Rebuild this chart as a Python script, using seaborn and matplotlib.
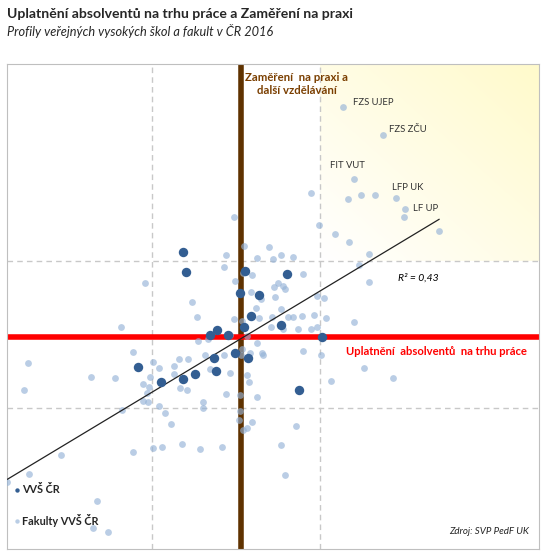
import numpy as np
import pandas as pd
import matplotlib
matplotlib.use('Agg')
import matplotlib.pyplot as plt
import seaborn as sns
from matplotlib.colors import LinearSegmentedColormap

# VVS CR - vysoke skoly
vvs_x = [51.86, 52.04, 55.54, 58.05, 55.22, 56.35, 55.91, 55.49, 57.70, 53.89, 53.47,
         54.52, 60.14, 54.94, 55.73, 53.71, 53.83, 52.58, 51.86, 50.54, 49.18, 58.77]
vvs_y = [60.63, 59.23, 59.32, 59.10, 57.80, 57.67, 56.24, 55.53, 55.63, 55.29, 54.95,
         54.95, 54.81, 53.72, 53.38, 53.40, 52.50, 52.29, 51.95, 51.75, 52.79, 51.20]

# Fakulty VVS CR
fak_x = [61.39, 63.77, 62.04, 59.48, 61.68, 62.46, 63.29, 64.55, 65.09, 65.02, 67.10,
         54.90, 59.96, 60.91, 61.74, 55.49, 56.98, 62.93, 56.28, 57.22, 57.71, 58.41,
         54.42, 62.34, 54.30, 55.43, 55.93, 59.01, 49.60, 54.96, 57.52, 57.26, 57.78,
         57.93, 62.93, 55.91, 56.47, 57.34, 59.84, 60.26, 52.40, 56.21, 57.70, 52.70,
         54.90, 55.34, 56.35, 57.16, 58.08, 58.41, 58.95, 59.66, 60.38, 48.13, 57.07,
         57.82, 58.71, 59.46, 59.84, 62.04, 54.63, 55.65, 53.32, 52.77, 56.27, 55.36,
         55.32, 55.85, 48.89, 53.18, 54.30, 56.57, 56.63, 59.01, 60.08, 50.09, 51.58,
         52.13, 51.33, 50.39, 53.47, 54.65, 55.67, 55.79, 47.82, 49.90, 51.31, 49.48,
         49.84, 51.67, 52.11, 60.67, 62.64, 64.36, 49.70, 49.48, 49.78, 54.42, 55.27,
         56.27, 53.01, 53.01, 50.39, 42.60, 46.37, 42.40, 48.23, 50.79, 51.15, 55.26,
         55.16, 55.97, 55.67, 55.40, 58.59, 48.89, 50.08, 50.61, 51.80, 52.88, 54.18,
         44.60, 57.70, 57.93, 41.39, 42.70, 46.74, 46.51, 47.40]
fak_y = [70.46, 68.55, 65.56, 64.61, 64.20, 64.52, 64.47, 64.27, 63.52, 62.97, 62.02,
         62.97, 62.43, 61.82, 61.27, 61.01, 60.93, 60.46, 60.18, 60.12, 60.39, 60.26,
         60.39, 59.71, 59.57, 59.16, 59.03, 59.10, 58.48, 58.62, 58.48, 58.25, 58.30,
         58.12, 58.55, 57.87, 57.39, 57.57, 57.65, 57.46, 57.19, 56.78, 56.71, 56.17,
         56.03, 55.90, 56.14, 56.17, 56.17, 56.21, 56.24, 56.31, 56.10, 55.49, 55.53,
         55.35, 55.39, 55.39, 55.50, 55.83, 54.99, 54.88, 54.71, 54.54, 54.40, 53.99,
         53.61, 53.72, 53.79, 53.59, 53.59, 53.76, 53.59, 53.86, 53.59, 53.11, 53.32,
         53.31, 52.89, 52.69, 52.63, 52.36, 52.22, 51.80, 52.02, 52.10, 52.29, 51.61,
         51.46, 51.34, 51.20, 51.87, 52.72, 52.02, 51.00, 50.46, 50.39, 50.93, 50.86,
         50.73, 50.39, 50.03, 50.12, 53.04, 52.13, 51.20, 49.84, 49.64, 48.89, 49.78,
         49.17, 49.03, 48.66, 48.48, 48.76, 46.99, 47.26, 47.33, 47.53, 47.19, 47.33,
         46.78, 47.46, 45.43, 44.95, 45.49, 43.65, 41.82, 41.56]

# popisky vybranych fakult (index do fak_x / fak_y)
fak_popisky = {0: 'FZS UJEP', 1: 'FZS ZČU', 2: 'FIT VUT', 7: 'LFP UK', 8: 'LF UP'}

# prumery a linearni trend
prumer_praxe = 55.3
prumer_uplatneni = 54.83
trend_x = [41.39, 67.10]
trend_y = [45.15, 62.84]
r2 = '0,43'

fak = pd.DataFrame({'x': fak_x, 'y': fak_y})
vvs = pd.DataFrame({'x': vvs_x, 'y': vvs_y})

sns.set_style('white')
plt.rcParams['font.family'] = ['Lato', 'DejaVu Sans']

fig = plt.figure(figsize=(5.47, 5.56), dpi=100)
ax = fig.add_axes([7 / 547, 7 / 556, 532 / 547, 485 / 556])

xmin, xmax = 41.37, 73.04
ymin, ymax = 40.41, 73.40

# zluty gradient v pravem hornim kvadrantu
u, v = np.meshgrid(np.linspace(0, 1, 200), np.linspace(0, 1, 200))
grad = (u + v) / 2
cmap = LinearSegmentedColormap.from_list('zluta', ['#FFFFFF', '#FFFACB'])
ax.imshow(grad, extent=[60, xmax, 60, ymax], origin='lower', cmap=cmap,
          aspect='auto', zorder=0, vmin=0, vmax=1)

for g in [50, 60]:
    ax.axvline(g, color='#C8C8C8', lw=1, ls=(0, (4, 3)), zorder=1)
    ax.axhline(g, color='#C8C8C8', lw=1, ls=(0, (4, 3)), zorder=1)

ax.axvline(prumer_praxe, color='#5F3200', lw=4, zorder=2)
ax.axhline(prumer_uplatneni, color='#FF0000', lw=4, zorder=2)

sns.scatterplot(data=fak, x='x', y='y', ax=ax, color='#95B3D7', alpha=0.65,
                s=24, linewidth=0, zorder=3)
ax.plot(trend_x, trend_y, color='#222222', lw=0.9, zorder=4)
sns.scatterplot(data=vvs, x='x', y='y', ax=ax, color='#335E92',
                s=46, linewidth=0, zorder=5)

offsets = {0: (10, 5), 1: (6, 6), 2: (-24, 14), 7: (-4, 11), 8: (8, 1)}
for i, name in fak_popisky.items():
    ax.annotate(name, (fak_x[i], fak_y[i]), xytext=offsets[i],
                textcoords='offset pixels', ha='left', va='center',
                fontsize=6.8, color='#333333', zorder=6)

ax.set_xlim(xmin, xmax)
ax.set_ylim(ymin, ymax)
ax.set_xticks([])
ax.set_yticks([])
ax.set_xlabel('')
ax.set_ylabel('')
for s in ax.spines.values():
    s.set_color('#BFBFBF')
    s.set_linewidth(0.8)

ax.text(0.545, 0.959, 'Zaměření  na praxi a\ndalší vzdělávání', transform=ax.transAxes,
        ha='center', va='center', fontsize=8.2, fontweight='bold', color='#7A3E00',
        linespacing=1.2)
ax.text(0.8073, 0.408, 'Uplatnění  absolventů  na trhu práce', transform=ax.transAxes,
        ha='center', va='center', fontsize=8.1, fontweight='bold', color='#FF0000')
ax.text(0.7735, 0.559, 'R² = ' + r2, transform=ax.transAxes, ha='center', va='center',
        fontsize=7.5, style='italic', color='#000000')

ax.scatter([0.0194], [0.1223], transform=ax.transAxes, s=10, color='#335E92',
           linewidth=0, zorder=6)
ax.text(0.0282, 0.1223, 'VVŠ ČR', transform=ax.transAxes, ha='left', va='center',
        fontsize=7.8, fontweight='bold')
ax.scatter([0.0194], [0.0584], transform=ax.transAxes, s=10, color='#B9CDE5',
           linewidth=0, zorder=6)
ax.text(0.0282, 0.0584, 'Fakulty VVŠ ČR', transform=ax.transAxes, ha='left', va='center',
        fontsize=7.8, fontweight='bold')
ax.text(0.981, 0.036, 'Zdroj: SVP PedF UK', transform=ax.transAxes, ha='right',
        va='center', fontsize=7, style='italic')

fig.text(7 / 547, 1 - 14 / 556, 'Uplatnění absolventů na trhu práce a Zaměření na praxi',
         ha='left', va='center', fontsize=10.1, fontweight='bold')
fig.text(7 / 547, 1 - 31 / 556, 'Profily veřejných vysokých škol a fakult v ČR 2016',
         ha='left', va='center', fontsize=9.2, style='italic')

fig.savefig('out.png', dpi=100)
